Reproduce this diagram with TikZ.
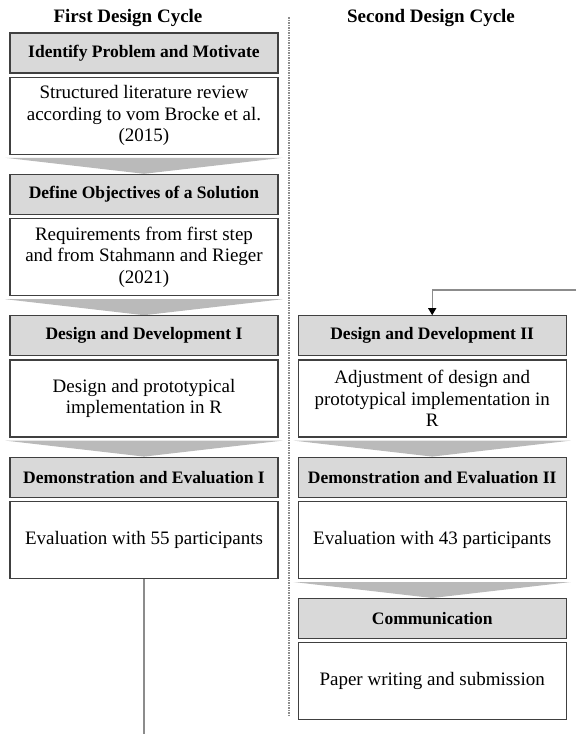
\documentclass[tikz,border=0pt]{standalone}
\usepackage{fontspec}
\setmainfont{Liberation Serif}
\usepackage{tikz}
\usetikzlibrary{arrows.meta,positioning}
\newcommand{\bodysize}{\fontsize{19}{21.5}\selectfont}
\newcommand{\headsize}{\fontsize{17.5}{20}\selectfont}
% gray chevron under a text box
\newcommand{\downchev}[1]{%
  \fill[chev] ([xshift=-4pt,yshift=-3pt]#1.south west) -- ([xshift=4pt,yshift=-3pt]#1.south east)
    -- ([yshift=-19pt]#1.south) -- cycle;}

\begin{document}
\begin{tikzpicture}[
  x=1pt, y=-1pt,
  title/.style={font=\bfseries\bodysize, inner sep=1pt},
  head/.style={draw=black!75, line width=1.2pt, fill=black!15, minimum width=268pt,
    minimum height=40pt, inner sep=2pt, font=\bfseries\headsize},
  txt/.style={draw=black!75, line width=1.2pt, fill=white, minimum width=268pt,
    minimum height=77pt, inner sep=2pt, align=center, font=\bodysize},
  chev/.style={fill=black!27},
  sep/.style={draw=black!45, line width=1.3pt, dash pattern=on 1.5pt off 1pt},
  backline/.style={draw=black!45, line width=1.2pt},
  exitline/.style={draw=black!45, line width=1.5pt},
]
  \useasboundingbox (0,0) rectangle (576,734);

  % Column titles
  \node[title] (cyc1) at (128,18) {First Design Cycle};
  \node[title] (cyc2) at (431,18) {Second Design Cycle};

  % Separator
  \coordinate (septop) at (289,17);
  \coordinate (sepbot) at (289,715);
  \draw[sep] (septop) -- (sepbot);

  % First design cycle
  \node[head] (h1) at (144,53) {Identify Problem and Motivate};
  \node[txt, below=3pt of h1] (t1) {Structured literature review\\according to vom Brocke et al.\\(2015)};
  \downchev{t1}

  \node[head, below=19pt of t1] (h2) {Define Objectives of a Solution};
  \node[txt, below=3pt of h2] (t2) {Requirements from first step\\and from Stahmann and Rieger\\(2021)};
  \downchev{t2}

  \node[head, below=19pt of t2] (h3) {Design and Development I};
  \node[txt, below=3pt of h3] (t3) {Design and prototypical\\implementation in R};
  \downchev{t3}

  \node[head, below=19pt of t3] (h4) {Demonstration and Evaluation I};
  \node[txt, below=3pt of h4] (t4) {Evaluation with 55 participants};

  \coordinate (lineend) at (144,734);
  \draw[exitline] (t4.south) -- (lineend);

  % Second design cycle
  \node[head, right=19pt of h3] (hr1) {Design and Development II};
  \node[txt, below=3pt of hr1] (tr1) {Adjustment of design and\\prototypical implementation in\\R};
  \downchev{tr1}

  \node[head, below=19pt of tr1] (hr2) {Demonstration and Evaluation II};
  \node[txt, below=3pt of hr2] (tr2) {Evaluation with 43 participants};
  \downchev{tr2}

  \node[head, below=19pt of tr2] (hr3) {Communication};
  \node[txt, below=3pt of hr3] (tr3) {Paper writing and submission};

  % Feedback into second cycle
  \coordinate (backin) at (576,290);
  \draw[backline, -{Triangle[width=8pt,length=7pt,color=black]}] (backin) -| (hr1.north);
\end{tikzpicture}
\end{document}
